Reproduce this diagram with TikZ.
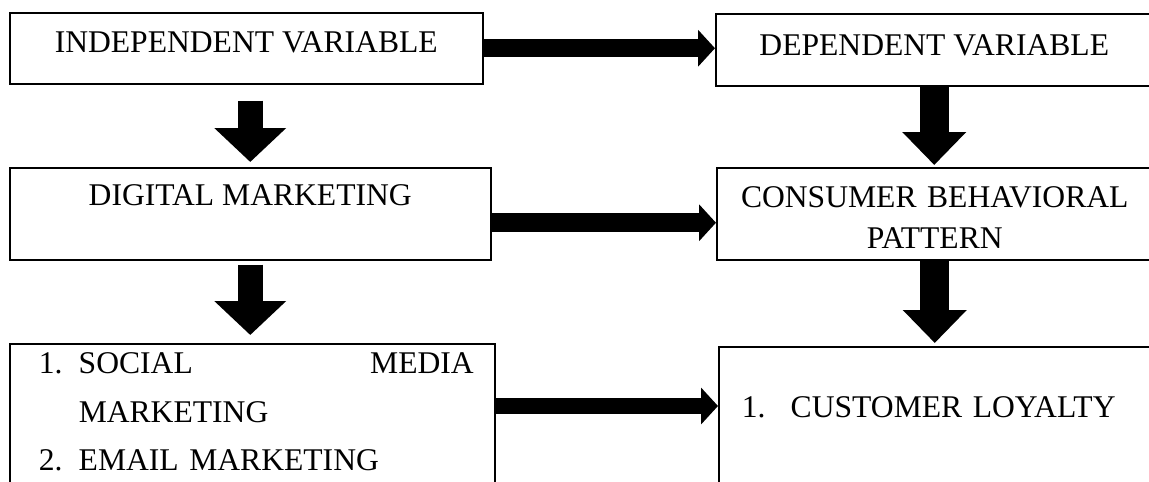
\documentclass[tikz,border=0pt]{standalone}
\usepackage{fontspec}
\setmainfont{Liberation Serif}
\usetikzlibrary{arrows.meta}

\begin{document}
\begin{tikzpicture}[x=1pt, y=-1pt]
  \tikzstyle{block} = [rectangle, draw, line width=1.5pt, inner sep=0pt, anchor=north west,
                       font=\fontsize{31.6pt}{48pt}\selectfont]
  \tikzstyle{fatright} = [line width=18pt, -{Triangle[length=17pt, width=36pt]}]
  \tikzstyle{fatdown} = [line width=25pt, -{Triangle[length=34pt, width=70pt]}]

\useasboundingbox (0,0) rectangle (1149,482);
\node[block, minimum width=473pt, text height=40pt, text depth=31pt] (indep) at (9,12) {INDEPENDENT VARIABLE};
\node[block, minimum width=437pt, text height=42pt, text depth=30pt] (dep) at (715,13) {DEPENDENT VARIABLE};
\node[block, minimum width=481pt, text height=38pt, text depth=54pt] (dig) at (9,167) {DIGITAL MARKETING};
\node[block, text width=436pt, text height=40pt, text depth=52pt, align=center, font=\fontsize{31.6pt}{41pt}\selectfont] (cons) at (716,167) {CONSUMER BEHAVIORAL\\ PATTERN};
\node[block, text width=485pt, align=left, text height=30pt, text depth=127pt, font=\fontsize{31.6pt}{48.5pt}\selectfont] (media) at (9,343) {\noindent\begin{tabular}[t]{@{\hspace{29pt}}p{40pt}@{}p{395pt}@{}}
  1. & SOCIAL \hfill MEDIA\\
     & MARKETING\\
  2. & EMAIL MARKETING
\end{tabular}};
\node[block, text width=434pt, align=left, text height=71pt, text depth=83pt] (loyal) at (718,346) {\noindent\hspace*{23pt}\makebox[49pt][l]{1.}CUSTOMER LOYALTY};
\draw[fatright] (indep.east) -- (indep.east -| dep.west);
\draw[fatright, line width=19pt] ([yshift=-9pt]dig.east) -- ([yshift=-9pt]dig.east -| cons.west);
\draw[fatright, line width=16pt] ([yshift=-63pt]media.north east) -- ([yshift=-63pt]media.north east -| loyal.west);
\draw[fatdown, shorten <=16pt, shorten >=5pt] ([xshift=4pt]indep.south) -- ([xshift=4pt]indep.south |- dig.north);
\draw[fatdown, shorten <=4pt, shorten >=8pt] (dig.south) -- (dig.south |- media.north);
\draw[fatdown, line width=29pt, -{Triangle[length=33pt, width=62pt]}, shorten >=2pt] (dep.south) -- (dep.south |- cons.north);
\draw[fatdown, line width=29pt, -{Triangle[length=33pt, width=62pt]}, shorten >=3pt] (cons.south) -- (cons.south |- loyal.north);
\end{tikzpicture}
\end{document}
